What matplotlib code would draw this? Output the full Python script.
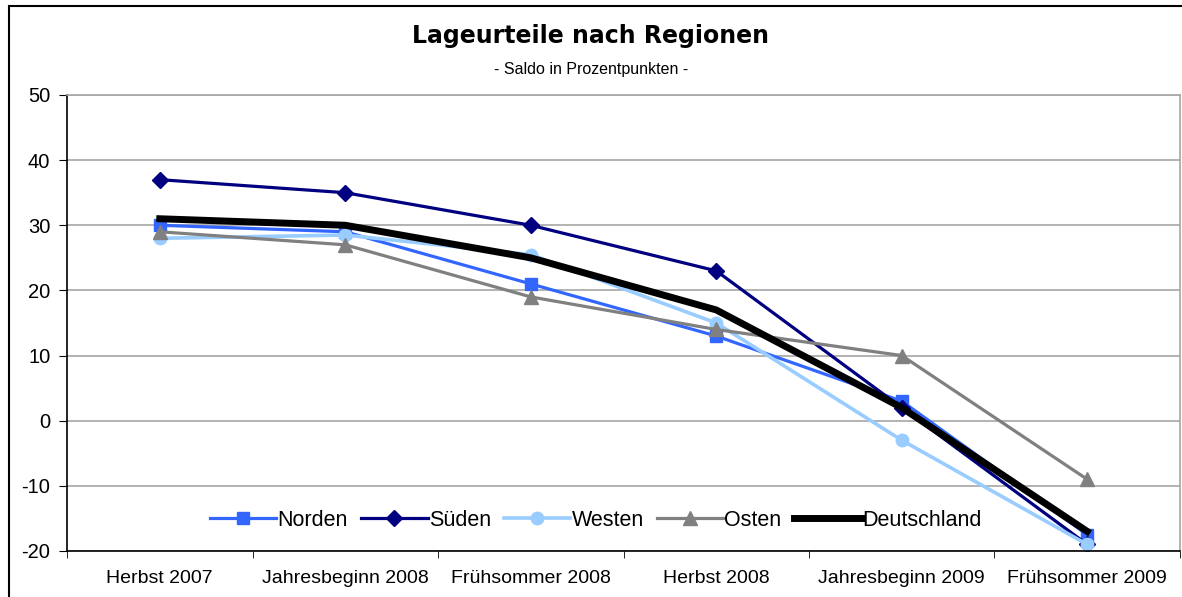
import matplotlib
matplotlib.use("Agg")
import matplotlib.pyplot as plt
from matplotlib.patches import Rectangle

plt.rcParams['font.family'] = ['Liberation Sans', 'DejaVu Sans']
plt.rcParams['axes.unicode_minus'] = False

# data
kategorien = ["Herbst 2007", "Jahresbeginn 2008", "Frühsommer 2008",
              "Herbst 2008", "Jahresbeginn 2009", "Frühsommer 2009"]
norden = [30, 29, 21, 13, 3, -17.5]
sueden = [37, 35, 30, 23, 2, -19]
westen = [28, 28.5, 25.5, 15, -3, -19]
osten = [29, 27, 19, 14, 10, -9]
deutschland = [31, 30, 25, 17, 2, -17]

fig = plt.figure(figsize=(11.82, 5.97), dpi=100)
ax = fig.add_axes([0.0567, 0.0771, 0.9416, 0.7638])

x = list(range(len(kategorien)))
ax.plot(x, norden, color="#3366FF", lw=2.3, marker="s", ms=8, label="Norden")
ax.plot(x, sueden, color="#000080", lw=2.3, marker="D", ms=8, label="Süden")
ax.plot(x, westen, color="#99CCFF", lw=2.6, marker="o", ms=9, label="Westen")
ax.plot(x, osten, color="#808080", lw=2.3, marker="^", ms=10, label="Osten")
ax.plot(x, deutschland, color="black", lw=5, label="Deutschland")

ax.set_xlim(-0.5, 5.5)
ax.set_ylim(-20, 50)
ax.set_yticks(range(-20, 51, 10))
ax.set_xticks(x)
ax.set_xticklabels(kategorien, fontsize=14)
ax.set_xticks([i + 0.5 for i in range(-1, 6)], minor=True)
ax.tick_params(axis='x', which='major', length=0, pad=14)
ax.tick_params(axis='x', which='minor', length=5, direction='out', color='black')
ax.tick_params(axis='y', length=6, direction='out', labelsize=14.5, pad=6)
ax.grid(axis='y', color='#A6A6A6', lw=1.2)
ax.set_axisbelow(True)
for s in ['top', 'right']:
    ax.spines[s].set_color('#A6A6A6')
    ax.spines[s].set_linewidth(1.2)
ax.spines['left'].set_linewidth(1.2)
ax.spines['bottom'].set_linewidth(1.2)

ax.legend(loc='lower center', bbox_to_anchor=(0.475, 0.0), ncol=5, frameon=False,
          fontsize=15.5, handlelength=3.1, handletextpad=0.05, columnspacing=0.6,
          borderaxespad=0.55)

fig.text(0.5, 0.94, "Lageurteile nach Regionen", ha='center', va='center',
         fontsize=17, weight='bold', family='DejaVu Sans')
fig.text(0.5, 0.883, "- Saldo in Prozentpunkten -", ha='center', va='center',
         fontsize=11.5)

fig.patches.append(Rectangle((9 / 1182, -0.1), 1.2, 1.09, transform=fig.transFigure,
                             fill=False, edgecolor='black', lw=1.5))

fig.savefig("out.png", dpi=100)
